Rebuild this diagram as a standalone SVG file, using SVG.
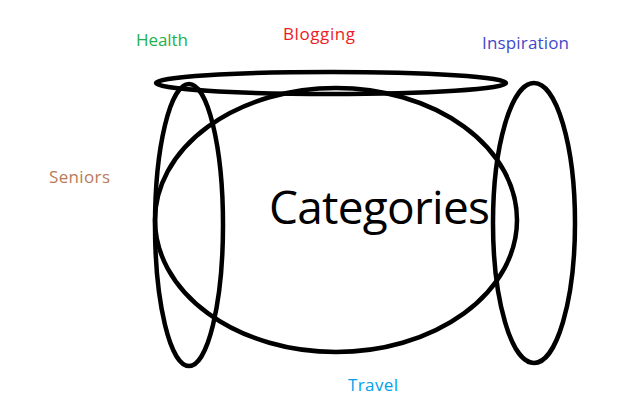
<svg xmlns="http://www.w3.org/2000/svg" width="618" height="416" viewBox="0 0 618 416">
<style>
.s{fill:none;stroke:#000;stroke-width:4.5}
.t{font-family:"Open Sans","Liberation Sans",Arial,sans-serif;font-size:17px}
</style>
<rect width="618" height="416" fill="#fff"/>
<g id="shapes">
<ellipse id="categories-oval" class="s" cx="336" cy="220" rx="181" ry="132"/>
<ellipse id="blogging-oval" class="s" cx="331" cy="83" rx="175" ry="11"/>
<ellipse id="seniors-oval" class="s" cx="189" cy="225" rx="34" ry="141"/>
<ellipse id="inspiration-oval" class="s" cx="534" cy="223" rx="41" ry="140"/>
</g>
<g id="labels">
<text id="health" class="t" x="136" y="46" fill="#22b14c" textLength="52">Health</text>
<text id="blogging" class="t" x="283" y="40" fill="#ed1c24" textLength="72">Blogging</text>
<text id="inspiration" class="t" x="482" y="49" fill="#3f48cc" textLength="87">Inspiration</text>
<text id="seniors" class="t" x="49" y="183" fill="#b97a57" textLength="61">Seniors</text>
<text id="travel" class="t" x="348" y="391" fill="#00a2e8" textLength="50">Travel</text>
<text id="categories" x="269" y="224" font-family="Open Sans,Liberation Sans,Arial,sans-serif" font-size="46" fill="#000" textLength="221">Categories</text>
</g>
</svg>
